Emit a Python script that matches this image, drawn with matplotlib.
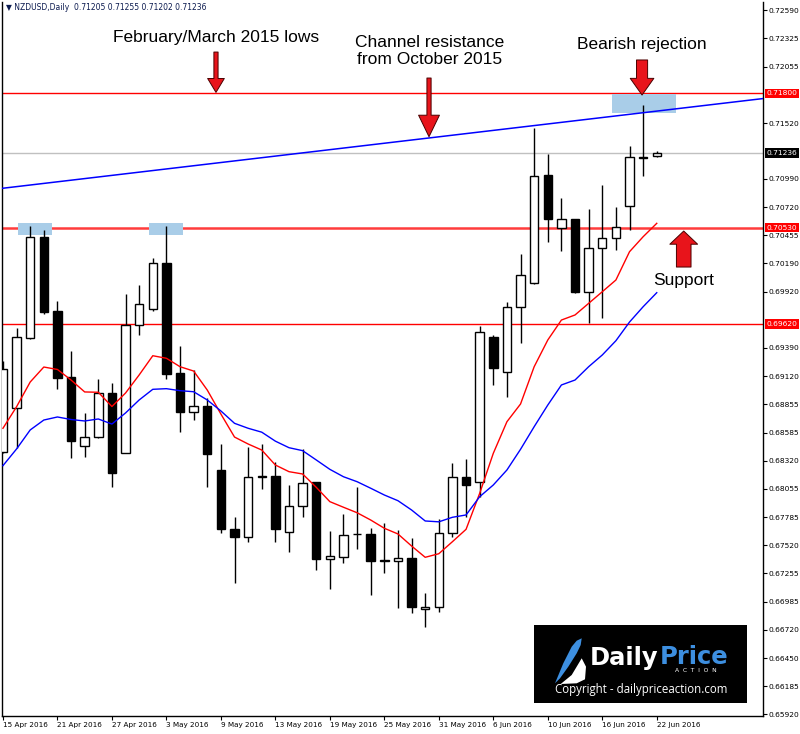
import matplotlib.pyplot as plt
import matplotlib.patches as mpatches

# NZDUSD daily candles, 15 Apr 2016 .. 22 Jun 2016
opens = [0.68401, 0.68824, 0.69487, 0.70438, 0.69740, 0.69112, 0.68461, 0.68549, 0.68960, 0.68398,
         0.69607, 0.69761, 0.70197, 0.69150, 0.68786, 0.68840, 0.68234, 0.67678, 0.67597, 0.68172,
         0.68177, 0.67644, 0.67893, 0.68117, 0.67394, 0.67410, 0.67625, 0.67628, 0.67382, 0.67369,
         0.67403, 0.66915, 0.66934, 0.67634, 0.68170, 0.68120, 0.69491, 0.69165, 0.69780, 0.70002,
         0.71028, 0.70528, 0.70611, 0.69922, 0.70333, 0.70428, 0.70737, 0.71195, 0.71205]
highs = [0.69269, 0.69576, 0.70545, 0.70507, 0.69834, 0.69361, 0.68776, 0.69100, 0.69061, 0.69901,
         0.69986, 0.70239, 0.70545, 0.69408, 0.69181, 0.68913, 0.68480, 0.67786, 0.68455, 0.68480,
         0.68312, 0.68092, 0.68430, 0.68120, 0.67656, 0.67817, 0.68070, 0.67682, 0.67735, 0.67666,
         0.67593, 0.67066, 0.67767, 0.68303, 0.68341, 0.69598, 0.69512, 0.69828, 0.70279, 0.71470,
         0.71226, 0.70807, 0.70611, 0.70706, 0.70933, 0.70722, 0.71302, 0.71690, 0.71255]
lows = [0.68395, 0.68439, 0.69474, 0.69711, 0.68998, 0.68345, 0.68360, 0.68540, 0.68076, 0.68395,
        0.69512, 0.69740, 0.69093, 0.68597, 0.68707, 0.68070, 0.67634, 0.67161, 0.67555, 0.68051,
        0.67555, 0.67457, 0.67786, 0.67287, 0.67104, 0.67356, 0.67483, 0.67053, 0.67256, 0.66924,
        0.66877, 0.66750, 0.66892, 0.67602, 0.67792, 0.67981, 0.69039, 0.68928, 0.69439, 0.69995,
        0.70396, 0.70308, 0.69913, 0.69629, 0.69676, 0.70317, 0.70507, 0.71018, 0.71202]
closes = [0.69187, 0.69496, 0.70438, 0.69733, 0.69108, 0.68511, 0.68549, 0.68960, 0.68203, 0.69607,
          0.69809, 0.70197, 0.69143, 0.68786, 0.68840, 0.68385, 0.67678, 0.67597, 0.68170, 0.68174,
          0.67678, 0.67896, 0.68114, 0.67394, 0.67419, 0.67621, 0.67625, 0.67375, 0.67372, 0.67398,
          0.66934, 0.66934, 0.67634, 0.68168, 0.68089, 0.69544, 0.69197, 0.69780, 0.70081, 0.71018,
          0.70608, 0.70608, 0.69922, 0.70333, 0.70428, 0.70538, 0.71195, 0.71191, 0.71236]

# moving averages
ma_fast = [0.68629, 0.68833, 0.69067, 0.69209, 0.69186, 0.69086, 0.68973, 0.68970, 0.68835, 0.68963,
           0.69134, 0.69316, 0.69292, 0.69212, 0.69171, 0.68991, 0.68764, 0.68546, 0.68480, 0.68423,
           0.68281, 0.68218, 0.68196, 0.68070, 0.67934, 0.67881, 0.67829, 0.67760, 0.67682, 0.67628,
           0.67514, 0.67407, 0.67441, 0.67555, 0.67672, 0.68013, 0.68392, 0.68691, 0.68859, 0.69212,
           0.69465, 0.69654, 0.69702, 0.69812, 0.69922, 0.70033, 0.70301, 0.70443, 0.70570]
ma_slow = [0.68275, 0.68433, 0.68613, 0.68707, 0.68736, 0.68712, 0.68698, 0.68717, 0.68669, 0.68774,
           0.68897, 0.68998, 0.69004, 0.68985, 0.68975, 0.68897, 0.68793, 0.68676, 0.68629, 0.68592,
           0.68507, 0.68445, 0.68417, 0.68329, 0.68240, 0.68170, 0.68123, 0.68061, 0.67997, 0.67943,
           0.67855, 0.67751, 0.67743, 0.67786, 0.67808, 0.67981, 0.68092, 0.68234, 0.68430, 0.68644,
           0.68849, 0.69039, 0.69086, 0.69212, 0.69323, 0.69458, 0.69635, 0.69780, 0.69913]

date_labels = ["15 Apr 2016", "21 Apr 2016", "27 Apr 2016", "3 May 2016", "9 May 2016",
               "13 May 2016", "19 May 2016", "25 May 2016", "31 May 2016", "6 Jun 2016",
               "10 Jun 2016", "16 Jun 2016", "22 Jun 2016"]
price_ticks = [0.72590, 0.72325, 0.72055, 0.71520, 0.70990, 0.70720, 0.70455, 0.70190, 0.69920,
               0.69390, 0.69120, 0.68855, 0.68585, 0.68320, 0.68055, 0.67785, 0.67520, 0.67255,
               0.66985, 0.66720, 0.66450, 0.66185, 0.65920]

resist_level = 0.71800
support_level = 0.70530
lower_level = 0.69620
bid = 0.71236
trend_x = [-0.02, 51.17]
trend_y = [0.70902, 0.71681]

fig = plt.figure(figsize=(8, 7.34), dpi=100)
ax = fig.add_axes([0.0025, 0.02452, 0.95125, 0.97275])
ax.set_xlim(-0.07, 55.8)
ax.set_ylim(0.65904, 0.72666)

# horizontal levels
ax.axhline(bid, color="#c0c0c0", lw=1, zorder=1)
ax.axhline(resist_level, color="#ff0000", lw=1, zorder=1)
ax.axhline(support_level, color="#ff3c3c", lw=1.8, zorder=1)
ax.axhline(lower_level, color="#ff0000", lw=1, zorder=1)

# highlight boxes
for x0, x1, y0, y1 in [(1.12, 3.58, 0.70459, 0.70576), (10.74, 13.19, 0.70459, 0.70576),
                       (44.71, 49.41, 0.71615, 0.71795)]:
    ax.add_patch(mpatches.Rectangle((x0, y0), x1 - x0, y1 - y0, fc="#a9cde8", ec="none", zorder=1.5))

# candles
w = 0.62
for i in range(len(opens)):
    o, h, l, c = opens[i], highs[i], lows[i], closes[i]
    ax.plot([i, i], [l, h], color="black", lw=1, zorder=2, solid_capstyle="butt")
    bottom = min(o, c)
    height = max(abs(c - o), 0.00002)
    fc = "white" if c >= o else "black"
    ax.add_patch(mpatches.Rectangle((i - w / 2, bottom), w, height, fc=fc, ec="black", lw=1, zorder=3))

# moving averages and channel line
ax.plot(range(len(ma_fast)), ma_fast, color="#ff0000", lw=1, zorder=4)
ax.plot(range(len(ma_slow)), ma_slow, color="#0000ff", lw=1, zorder=4)
ax.axline((trend_x[0], trend_y[0]), (trend_x[1], trend_y[1]), color="#0000ff", lw=1.1, zorder=4)

# axes styling
ax.spines["top"].set_visible(False)
for s in ["left", "right", "bottom"]:
    ax.spines[s].set_color("black")
    ax.spines[s].set_linewidth(1)
ax.yaxis.tick_right()
ax.set_yticks(price_ticks)
ax.set_yticklabels([f"{v:.5f}" for v in price_ticks])
ax.tick_params(axis="y", length=3, pad=1, labelsize=5.4, width=0.8)
ax.set_xticks(range(0, 49, 4))
ax.set_xticklabels(date_labels)
for lbl in ax.get_xticklabels():
    lbl.set_ha("left")
ax.tick_params(axis="x", length=3, pad=1.5, labelsize=5.2, width=0.8)

for v, col in [(resist_level, "#ff0000"), (bid, "black"), (support_level, "#ff0000"), (lower_level, "#ff0000")]:
    ax.annotate(f"{v:.5f}", xy=(1, v), xycoords=("axes fraction", "data"), xytext=(3.5, 0),
                textcoords="offset pixels", ha="left", va="center", fontsize=5.4, color="white",
                bbox=dict(boxstyle="square,pad=0.25", fc=col, ec="none"), annotation_clip=False)

fig.text(6 / 800, 1 - 8 / 734, "\u25bc NZDUSD,Daily  0.71205 0.71255 0.71202 0.71236",
         fontsize=5.5, color="#0b1a4f", va="center")

# annotations
tfont = dict(family="Liberation Sans", fontsize=12.5, color="black", ha="center", va="center")
ax.text(15.64, 0.72334, "February/March 2015 lows", **tfont)
ax.text(31.35, 0.72287, "Channel resistance", **tfont)
ax.text(31.35, 0.72117, "from October 2015", **tfont)
ax.text(46.92, 0.72259, "Bearish rejection", **tfont)
ax.text(50.0, 0.70033, "Support", **tfont)

arrows = [((15.64, 0.72192), (15.64, 0.71810), "simple,head_length=1.0,head_width=1.2,tail_width=0.3"),
          ((31.28, 0.71946), (31.28, 0.71390), "simple,head_length=1.55,head_width=1.5,tail_width=0.3"),
          ((46.92, 0.72117), (46.92, 0.71785), "simple,head_length=1.2,head_width=1.7,tail_width=0.8"),
          ((49.98, 0.70156), (49.98, 0.70497), "simple,head_length=0.95,head_width=2.0,tail_width=1.05")]
for tail, tip, style in arrows:
    ax.annotate("", xy=tip, xytext=tail,
                arrowprops=dict(arrowstyle=style, fc="#e8141b", ec="#4a0000", lw=0.7,
                                shrinkA=0, shrinkB=0, mutation_scale=10), zorder=6)

# logo box
lax = fig.add_axes([534 / 800, (734 - 703) / 734, 213 / 800, 78 / 734])
lax.set_facecolor("black")
lax.set_xlim(0, 213)
lax.set_ylim(78, 0)
lax.set_xticks([])
lax.set_yticks([])
for s in lax.spines.values():
    s.set_visible(False)
lax.add_patch(mpatches.Polygon([(21, 58.3), (29.3, 38.3), (37.7, 21.7), (42.7, 15.7), (47.7, 13.3),
                                (46.7, 20), (42.7, 28.3), (34.3, 41.7), (26, 53.3)], fc="#3d8fe0", ec="none"))
lax.add_patch(mpatches.Polygon([(26.7, 59), (37.7, 50), (47.7, 33.3), (52, 41.7), (51, 54.3),
                                (42.7, 58.3)], fc="white", ec="none"))
lax.text(56, 39.5, "Daily", fontsize=17.5, fontweight="bold", color="white", ha="left", va="baseline")
lax.text(126, 39.5, "Price", fontsize=17.5, fontweight="bold", color="#3d8fe0", ha="left", va="baseline")
lax.text(162, 46, "A  C  T  I  O  N", fontsize=4.3, color="white", ha="center", va="center")
lax.text(107, 64, "Copyright - dailypriceaction.com", family="Open Sans", fontsize=8.3,
         color="white", ha="center", va="center")

fig.savefig("out.png", dpi=100)
